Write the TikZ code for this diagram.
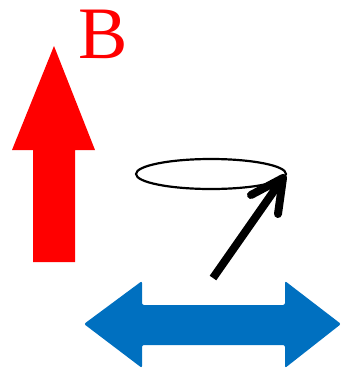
\documentclass[tikz,border=0pt]{standalone}
\usepackage{fontspec}
\setmainfont{Liberation Serif}
\usetikzlibrary{calc}
\begin{document}
\begin{tikzpicture}[x=1pt,y=-1pt]
\definecolor{bred}{RGB}{255,0,0}
\definecolor{bblue}{RGB}{0,112,192}
\useasboundingbox (0,0) rectangle (341,373);
% red up arrow
\fill[bred] (33,262) -- (75,262) -- (75,150) -- (95,150) -- (54,46) -- (12,150) -- (33,150) -- cycle;
\node[text=bred,font=\fontsize{74}{74}\selectfont,inner sep=0pt,anchor=base] (B) at (103,58) {B};
% ellipse
\draw[line width=2.2pt] (211,174) ellipse [x radius=75, y radius=15];
% black arrow
\coordinate (tail) at (213,278);
\coordinate (tip) at (283,178);
\draw[line width=8pt] (tail) -- ($(tip)!6pt!(tail)$);
\draw[line width=8pt,line cap=round,line join=round] (251,195) -- (tip) -- (278,214);
% blue double arrow
\fill[bblue,rounded corners=2pt] (84,324) -- (142,281) -- (142,305) -- (285,305) -- (285,281) -- (341,324) -- (285,368) -- (285,345) -- (142,345) -- (142,368) -- cycle;
\end{tikzpicture}
\end{document}
